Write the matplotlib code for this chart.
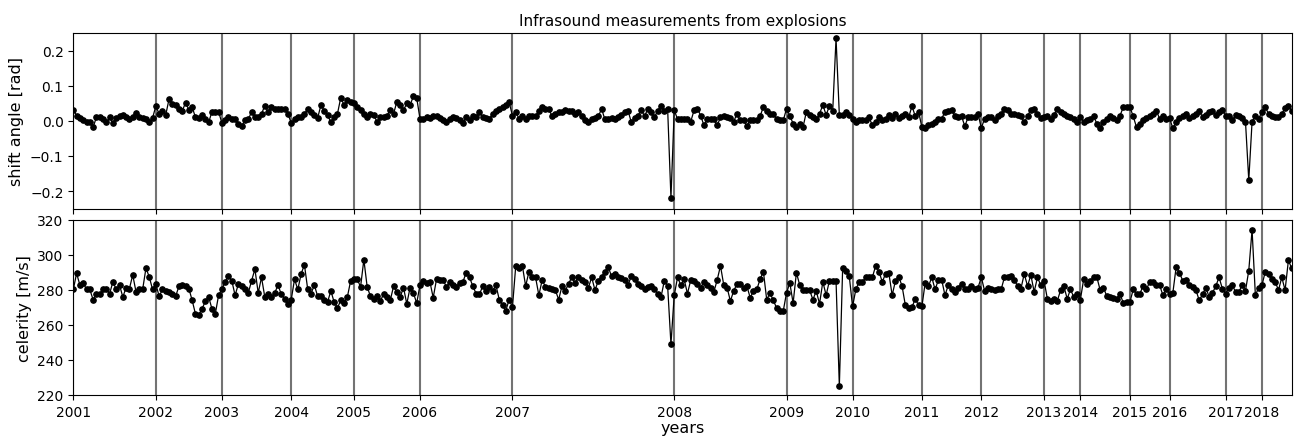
import matplotlib
matplotlib.use("Agg")
import matplotlib.pyplot as plt
import numpy as np

years = [2001, 2002, 2003, 2004, 2005, 2006, 2007, 2008, 2009, 2010,
         2011, 2012, 2013, 2014, 2015, 2016, 2017, 2018]
points_per_year = [25, 20, 21, 19, 20, 28, 49, 34, 20, 21, 18, 19, 11, 15, 12, 17, 11, 10]

shift_angle = [
    # 2001
    0.031, 0.015, 0.008, 0.001, -0.004, -0.002, -0.018, 0.010, 0.010, 0.004,
    -0.004, 0.010, -0.006, 0.008, 0.013, 0.017, 0.010, 0.004, 0.010, 0.022,
    0.010, 0.008, 0.004, -0.004, 0.008,
    # 2002
    0.042, 0.020, 0.029, 0.017, 0.062, 0.048, 0.045, 0.034, 0.029, 0.051,
    0.032, 0.039, 0.010, 0.008, 0.017, 0.006, -0.004, 0.026, 0.026, 0.026,
    # 2003
    -0.006, 0.001, 0.010, 0.006, 0.004, -0.008, -0.015, 0.001, 0.004, 0.026,
    0.012, 0.012, 0.020, 0.043, 0.026, 0.039, 0.034, 0.034, 0.034, 0.034, 0.020,
    # 2004
    -0.006, 0.004, 0.010, 0.010, 0.020, 0.034, 0.025, 0.017, 0.008, 0.045,
    0.029, 0.017, -0.004, 0.010, 0.020, 0.066, 0.045, 0.058, 0.055,
    # 2005
    0.050, 0.040, 0.030, 0.020, 0.010, 0.020, 0.018, -0.004, 0.010, 0.012,
    0.015, 0.030, 0.020, 0.055, 0.045, 0.030, 0.050, 0.045, 0.070, 0.065,
    # 2006
    0.006, 0.004, 0.010, 0.008, 0.013, 0.013, 0.008, 0.001, -0.004, 0.006,
    0.010, 0.008, 0.001, -0.007, 0.010, 0.001, 0.013, 0.010, 0.025, 0.010,
    0.008, 0.006, 0.020, 0.029, 0.034, 0.039, 0.045, 0.053,
    # 2007
    0.015, 0.025, 0.006, 0.013, 0.006, 0.013, 0.013, 0.013, 0.029, 0.039,
    0.034, 0.034, 0.013, 0.020, 0.026, 0.025, 0.032, 0.029, 0.029, 0.020,
    0.025, 0.013, 0.001, -0.002, 0.004, 0.008, 0.013, 0.034, 0.004, 0.004,
    0.008, 0.006, 0.010, 0.017, 0.025, 0.029, -0.004, 0.008, 0.013, 0.032,
    0.013, 0.034, 0.026, 0.010, 0.029, 0.042, 0.029, 0.034, -0.219,
    # 2008
    0.030, 0.005, 0.005, 0.005, 0.005, -0.002, 0.030, 0.035, 0.015, -0.013,
    0.004, 0.004, 0.004, -0.013, 0.010, 0.013, 0.010, 0.008, -0.002, 0.020,
    0.001, 0.001, -0.015, 0.001, 0.001, 0.001, 0.013, 0.040, 0.027, 0.020,
    0.020, 0.004, 0.001, 0.001,
    # 2009
    0.034, 0.015, -0.008, -0.018, -0.008, -0.018, 0.025, 0.017, 0.010, 0.004,
    0.020, 0.045, 0.017, 0.042, 0.029, 0.235, 0.017, 0.017, 0.025, 0.017,
    # 2010
    0.006, -0.004, 0.001, 0.001, 0.001, 0.010, -0.013, -0.004, 0.010, 0.001,
    0.006, 0.017, 0.008, 0.020, 0.008, 0.013, 0.020, 0.010, 0.042, 0.013, 0.026,
    # 2011
    -0.018, -0.021, -0.013, -0.008, -0.004, 0.004, 0.006, 0.026, 0.029, 0.032,
    0.015, 0.010, 0.013, -0.015, 0.010, 0.010, 0.010, 0.020,
    # 2012
    -0.020, 0.006, 0.010, 0.010, 0.001, 0.013, 0.020, 0.034, 0.030, 0.020,
    0.020, 0.017, 0.013, -0.004, 0.013, 0.032, 0.034, 0.020, 0.008,
    # 2013
    0.010, 0.013, 0.006, 0.017, 0.034, 0.026, 0.020, 0.015, 0.010, 0.006, -0.002,
    # 2014
    0.010, -0.004, 0.001, 0.006, 0.013, -0.008, -0.021, -0.004, 0.004, 0.013,
    0.008, 0.001, 0.015, 0.039, 0.039,
    # 2015
    0.039, 0.013, -0.018, -0.008, 0.001, 0.008, 0.013, 0.020, 0.029, 0.006,
    0.013, 0.004,
    # 2016
    0.008, -0.021, -0.004, 0.008, 0.015, 0.020, 0.008, 0.015, 0.020, 0.029,
    0.010, 0.017, 0.025, 0.029, 0.017, 0.025, 0.032,
    # 2017
    0.013, 0.013, 0.001, 0.017, 0.013, 0.008, -0.002, -0.169, -0.002, 0.013, 0.006,
    # 2018
    0.026, 0.039, 0.020, 0.013, 0.010, 0.010, 0.020, 0.036, 0.042, 0.029,
]

celerity = [
    # 2001
    280.2, 289.4, 282.7, 284.0, 280.2, 280.2, 274.4, 277.4, 277.4, 280.2,
    280.7, 277.8, 284.6, 280.2, 282.7, 275.9, 281.3, 280.7, 288.5, 278.8,
    280.7, 280.2, 292.3, 287.5, 280.2,
    # 2002
    283.3, 276.3, 280.2, 279.4, 278.8, 277.8, 276.3, 282.1, 282.7, 282.1,
    280.7, 274.0, 266.2, 265.8, 269.1, 273.6, 275.9, 269.1, 266.2, 276.9,
    # 2003
    280.2, 284.6, 287.9, 285.2, 276.9, 283.3, 282.1, 280.7, 278.2, 285.2,
    291.8, 278.2, 287.1, 275.9, 277.8, 275.9, 278.2, 282.7, 277.4, 274.9, 272.0,
    # 2004
    274.4, 286.0, 280.2, 289.1, 294.3, 280.2, 277.8, 282.7, 276.3, 276.3,
    274.4, 273.0, 279.4, 273.0, 269.7, 274.0, 272.4, 275.9, 285.2,
    # 2005
    286.0, 286.0, 281.7, 297.2, 281.7, 276.3, 274.9, 276.3, 273.6, 277.8,
    275.9, 274.0, 282.1, 278.8, 275.9, 281.3, 272.0, 281.3, 278.2, 272.4,
    # 2006
    282.7, 285.2, 284.0, 284.6, 275.5, 286.0, 285.6, 285.6, 281.7, 284.6,
    282.7, 281.7, 284.0, 284.6, 289.8, 287.1, 282.1, 277.8, 277.4, 282.1,
    279.4, 281.7, 279.4, 282.7, 274.4, 271.1, 268.2, 274.4,
    # 2007
    270.1, 293.7, 292.3, 293.7, 282.1, 290.4, 287.5, 287.1, 276.9, 285.6,
    281.7, 281.3, 280.2, 279.8, 274.4, 282.1, 279.4, 283.6, 287.1, 284.0,
    287.1, 285.6, 284.6, 281.3, 287.1, 279.8, 285.2, 287.5, 290.4, 292.9,
    287.9, 289.1, 287.5, 286.5, 285.6, 282.7, 287.9, 286.0, 283.6, 282.1,
    280.2, 281.7, 282.1, 280.2, 277.8, 275.9, 285.2, 282.1, 249.0,
    # 2008
    276.9, 287.1, 282.7, 286.0, 277.8, 285.6, 285.2, 283.6, 281.3, 284.6,
    282.7, 281.3, 278.8, 285.6, 293.7, 282.7, 281.3, 273.6, 279.4, 283.3,
    283.3, 281.3, 282.1, 275.5, 279.4, 280.2, 286.0, 290.4, 274.4, 278.2,
    274.0, 269.7, 268.2, 267.8,
    # 2009
    278.2, 284.0, 272.4, 289.8, 282.7, 279.8, 279.8, 279.8, 274.4, 279.4,
    272.0, 284.6, 276.9, 285.2, 285.2, 285.2, 225.0, 292.3, 291.0, 287.9,
    # 2010
    270.5, 280.2, 284.6, 284.6, 287.1, 287.1, 287.1, 293.7, 290.4, 284.6,
    289.1, 289.4, 276.9, 285.2, 287.5, 282.1, 271.1, 269.7, 270.1, 274.9, 271.1,
    # 2011
    270.5, 284.0, 282.1, 287.1, 280.2, 285.6, 285.6, 276.9, 282.7, 280.2,
    278.8, 281.3, 283.3, 280.2, 280.2, 282.1, 280.2, 281.3,
    # 2012
    287.1, 279.4, 281.3, 280.2, 279.8, 280.2, 280.2, 287.1, 287.5, 287.9,
    285.6, 282.1, 280.7, 289.1, 282.1, 288.5, 278.8, 287.1, 282.7,
    # 2013
    285.2, 274.9, 273.6, 274.9, 273.6, 279.8, 282.1, 274.9, 280.2, 275.9, 277.4,
    # 2014
    274.4, 286.0, 283.6, 285.2, 287.1, 287.1, 279.8, 281.3, 276.3, 275.9,
    275.5, 274.9, 277.8, 272.4, 273.0,
    # 2015
    273.0, 280.2, 277.4, 277.8, 282.1, 280.2, 284.6, 284.6, 282.7, 282.7,
    276.9, 280.2,
    # 2016
    277.4, 278.2, 292.9, 289.8, 285.2, 285.6, 282.7, 281.7, 279.8, 274.0,
    277.4, 281.3, 275.9, 278.2, 282.1, 287.1, 280.7,
    # 2017
    277.8, 281.3, 282.7, 278.8, 278.8, 282.7, 279.4, 291.0, 314.2, 276.9, 281.3,
    # 2018
    282.7, 290.4, 289.1, 286.0, 284.6, 279.8, 287.1, 279.8, 296.8, 292.3,
]

x = np.arange(len(shift_angle))
year_starts = np.concatenate([[0], np.cumsum(points_per_year)[:-1]])

fig = plt.figure(figsize=(12.96, 4.39), dpi=100)
W, H = 1296, 439
left, right = 73.3 / W, 1291.7 / W
ax1 = fig.add_axes([left, 1 - 209.7 / H, right - left, (209.7 - 34) / H])
ax2 = fig.add_axes([left, 1 - 396 / H, right - left, (396 - 220.7) / H])

for ax, y in ((ax1, shift_angle), (ax2, celerity)):
    for xs in year_starts:
        ax.axvline(xs, color="0.45", lw=1.5, zorder=1)
    ax.plot(x, y, "-o", color="k", lw=0.9, ms=3.8, zorder=3)
    ax.set_xlim(0, len(x) - 1)
    ax.set_xticks(year_starts)
    ax.tick_params(labelsize=10)

ax1.set_xticklabels([])
ax2.set_xticklabels([str(y) for y in years])
ax1.set_ylim(-0.25, 0.25)
ax1.set_yticks([-0.2, -0.1, 0.0, 0.1, 0.2])
ax2.set_ylim(220, 320)
ax2.set_yticks([220, 240, 260, 280, 300, 320])

ax1.set_title("Infrasound measurements from explosions", fontsize=11)
ax1.set_ylabel("shift angle [rad]", fontsize=11.5)
ax2.set_ylabel("celerity [m/s]", fontsize=11.5)
ax2.set_xlabel("years", fontsize=11.5, labelpad=1)

fig.savefig("out.png", dpi=100)
